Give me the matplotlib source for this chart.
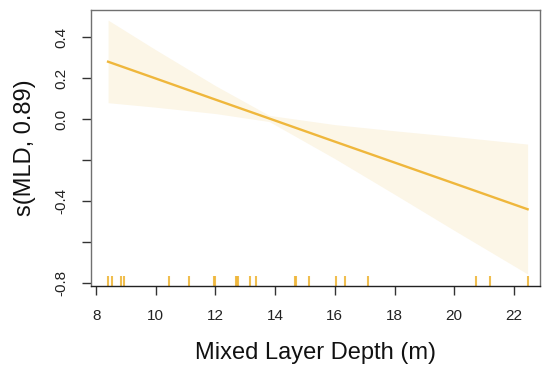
import matplotlib
matplotlib.use('Agg')
from matplotlib import pyplot as plt
import matplotlib.transforms as mtransforms

plt.rcParams['font.family'] = ['Liberation Sans', 'DejaVu Sans']

# Mixed layer depth (m) values for the rug
rug_mld = [8.40, 8.54, 8.84, 8.95, 10.44, 11.12, 11.95, 12.00, 12.68, 12.72,
           12.75, 13.17, 13.37, 14.65, 14.70, 15.13, 16.03, 16.35, 17.11,
           20.74, 21.19, 22.46]

# smooth estimate and confidence band
mld = [8.4, 10.0, 12.0, 13.8, 16.0, 18.0, 20.0, 22.46]
fit = [0.28, 0.198, 0.095, 0.003, -0.110, -0.212, -0.314, -0.440]
upper = [0.483, 0.338, 0.163, 0.018, -0.027, -0.057, -0.085, -0.122]
lower = [0.080, 0.058, 0.027, -0.012, -0.193, -0.367, -0.543, -0.756]

yticks = [-0.8, -0.6, -0.4, -0.2, 0.0, 0.2, 0.4]
ylabels = ['-0.8', '', '-0.4', '', '0.0', '0.2', '0.4']
xticks = [8, 10, 12, 14, 16, 18, 20, 22]

linea = '#EFB73C'
banda = '#FCF6E7'

fig = plt.figure(figsize=(5.42, 3.73), dpi=100)
ax = fig.add_axes([0.168, 0.233, 0.828, 0.740])

ax.fill_between(mld, lower, upper, color=banda, linewidth=0)
ax.plot(mld, fit, color=linea, linewidth=1.7)

trans = mtransforms.blended_transform_factory(ax.transData, ax.transAxes)
ax.vlines(rug_mld, 0, 0.036, transform=trans, color=linea, linewidth=1.5, alpha=0.9)

ax.set_xlim(7.83, 22.87)
ax.set_ylim(-0.815, 0.532)
ax.set_xticks(xticks)
ax.set_yticks(yticks)
ax.set_yticklabels(ylabels, rotation=90, va='center')

for lado in ['top', 'left', 'right']:
    ax.spines[lado].set_color('#707070')
ax.spines['bottom'].set_color('#222222')
for sp in ax.spines.values():
    sp.set_linewidth(1.0)

ax.tick_params(axis='both', direction='out', length=6.5, width=1.0,
               color='#333333', labelsize=11, labelcolor='#222222')
ax.tick_params(axis='x', pad=10)
ax.tick_params(axis='y', pad=10)

ax.set_xlabel('Mixed Layer Depth (m)', fontsize=17, color='#111111', labelpad=14)
ax.set_ylabel('s(MLD, 0.89)', fontsize=17, color='#111111', labelpad=13)

fig.savefig('out.png', dpi=100)
